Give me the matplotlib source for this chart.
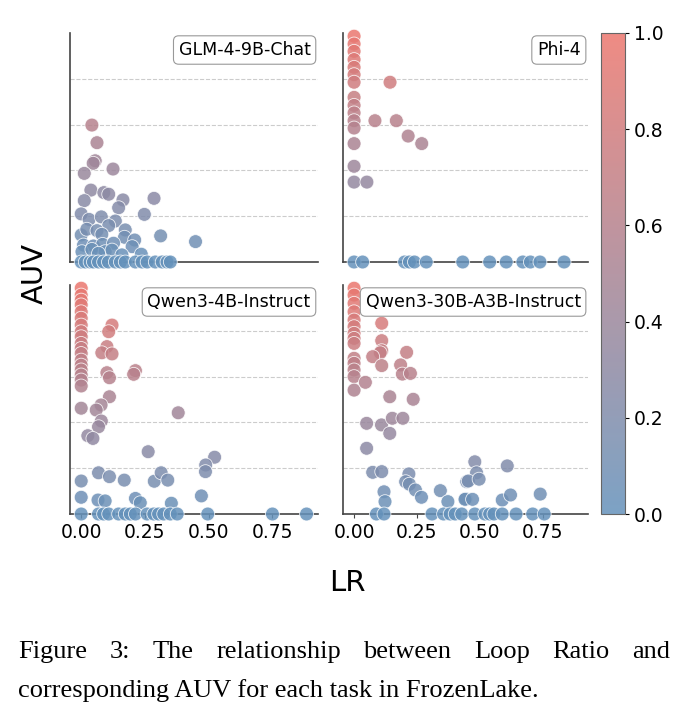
import matplotlib
matplotlib.use("Agg")
import matplotlib.pyplot as plt
from matplotlib.colors import LinearSegmentedColormap
import numpy as np

models = ["GLM-4-9B-Chat", "Phi-4", "Qwen3-4B-Instruct", "Qwen3-30B-A3B-Instruct"]

# GLM-4-9B-Chat
glm_lr = [0.042, 0.062, 0.055, 0.047, 0.012, 0.125, 0.038, 0.089, 0.108, 0.012,
          0.164, 0.286, 0.147, 0.0, 0.031, 0.079, 0.134, 0.108, 0.248, 0.0,
          0.022, 0.062, 0.081, 0.173, 0.170, 0.21, 0.312, 0.449, 0.009, 0.048,
          0.084, 0.127, 0.2, 0.003, 0.042, 0.094, 0.121, 0.160, 0.236, 0.068,
          0.0, 0.016, 0.035, 0.048, 0.068, 0.088, 0.107, 0.134, 0.154, 0.173,
          0.213, 0.239, 0.259, 0.291, 0.318, 0.337, 0.350]
glm_auv = [0.598, 0.521, 0.442, 0.431, 0.387, 0.406, 0.314, 0.303, 0.296, 0.268,
           0.271, 0.278, 0.237, 0.210, 0.186, 0.197, 0.179, 0.159, 0.208, 0.118,
           0.143, 0.137, 0.121, 0.140, 0.108, 0.096, 0.114, 0.089, 0.074, 0.070,
           0.077, 0.082, 0.067, 0.045, 0.055, 0.045, 0.052, 0.031, 0.034, 0.038,
           0, 0, 0, 0, 0, 0, 0, 0, 0, 0,
           0, 0, 0, 0, 0, 0, 0]

# Phi-4
phi_lr = [0, 0, 0, 0, 0, 0, 0, 0, 0, 0, 0, 0, 0, 0, 0,
          0.143, 0.083, 0.168, 0.215, 0.269, 0.051,
          0.0, 0.034, 0.201, 0.22, 0.24, 0.287, 0.432, 0.539, 0.605, 0.671,
          0.701, 0.739, 0.835]
phi_auv = [0.986, 0.952, 0.920, 0.884, 0.850, 0.818, 0.785, 0.719, 0.684, 0.651,
           0.617, 0.585, 0.517, 0.418, 0.349,
           0.785, 0.617, 0.617, 0.550, 0.517, 0.349,
           0, 0, 0, 0, 0, 0, 0, 0, 0, 0,
           0, 0, 0]

# Qwen3-4B-Instruct
q4_lr = [0] * 19 + [
    0.121, 0.108, 0.101, 0.081, 0.121, 0.101, 0.111, 0.213, 0.206, 0.111,
    0.078, 0.059, 0.381, 0.079, 0.068, 0.026, 0.046, 0.263, 0.0, 0.068,
    0.111, 0.169, 0.287, 0.314, 0.340, 0.0, 0.066, 0.094, 0.213, 0.232,
    0.354, 0.472, 0.524, 0.489, 0.488,
    0.0, 0.068, 0.088, 0.108, 0.147, 0.173, 0.193, 0.213, 0.259, 0.285,
    0.304, 0.324, 0.350, 0.377, 0.497, 0.751, 0.885]
q4_auv = [0.986, 0.956, 0.934, 0.913, 0.883, 0.855, 0.825, 0.796, 0.774, 0.745,
          0.723, 0.701, 0.672, 0.650, 0.629, 0.607, 0.585, 0.559, 0.462,
          0.825, 0.796, 0.731, 0.704, 0.699, 0.617, 0.595, 0.626, 0.610, 0.512,
          0.476, 0.454, 0.442, 0.406, 0.381, 0.342, 0.330, 0.272, 0.144, 0.180,
          0.163, 0.148, 0.143, 0.180, 0.148, 0.073, 0.061, 0.057, 0.068, 0.049,
          0.047, 0.079, 0.248, 0.214, 0.185,
          0, 0, 0, 0, 0, 0, 0, 0, 0, 0,
          0, 0, 0, 0, 0, 0, 0]

# Qwen3-30B-A3B-Instruct
q30_lr = [0] * 14 + [
    0.110, 0.110, 0.110, 0.104, 0.074, 0.110, 0.209, 0.185, 0.192, 0.224,
    0.045, 0.142, 0.235, 0.050, 0.109, 0.152, 0.194, 0.142, 0.050, 0.074,
    0.110, 0.218, 0.205, 0.220, 0.119, 0.123, 0.244, 0.268, 0.343, 0.373,
    0.448, 0.444, 0.480, 0.609, 0.487, 0.454, 0.497, 0.441, 0.471, 0.589,
    0.622, 0.740,
    0.089, 0.119, 0.310, 0.356, 0.382, 0.402, 0.428, 0.480, 0.520, 0.539,
    0.556, 0.589, 0.644, 0.710, 0.756]
q30_auv = [0.986, 0.956, 0.920, 0.883, 0.847, 0.818, 0.789, 0.767, 0.745, 0.680,
           0.658, 0.629, 0.600, 0.541,
           0.833, 0.757, 0.713, 0.704, 0.687, 0.648, 0.706, 0.651, 0.611, 0.614,
           0.575, 0.512, 0.501, 0.396, 0.389, 0.418, 0.418, 0.352, 0.287, 0.182,
           0.185, 0.175, 0.141, 0.130, 0.097, 0.054, 0.105, 0.073, 0.102, 0.054,
           0.141, 0.066, 0.228, 0.210, 0.180, 0.144, 0.152, 0.064, 0.064, 0.061,
           0.083, 0.087,
           0, 0, 0, 0, 0, 0, 0, 0, 0, 0,
           0, 0, 0, 0, 0]

cbar_ticks = [0.0, 0.2, 0.4, 0.6, 0.8, 1.0]
caption1 = "Figure 3: The relationship between Loop Ratio and"
caption2 = "corresponding AUV for each task in FrozenLake."

W, H = 689, 719


def rect(l, t, r, b):
    return [l / W, 1 - b / H, (r - l) / W, (b - t) / H]


def justify(fig, words, x0, x1, y, **kw):
    # place words so the line fills x0..x1 like LaTeX justified text
    r = fig.canvas.get_renderer()
    objs = [fig.text(0, y, w, **kw) for w in words]
    widths = [o.get_window_extent(r).width / W for o in objs]
    gap = (x1 - x0 - sum(widths)) / (len(words) - 1)
    x = x0
    for o, w in zip(objs, widths):
        o.set_x(x)
        x += w + gap


def main():
    cmap = LinearSegmentedColormap.from_list("auv", ["#6592bb", "#ec776e"])
    fig = plt.figure(figsize=(6.89, 7.19), dpi=100)

    ax0 = fig.add_axes(rect(70, 33, 318, 262))
    axes = [ax0,
            fig.add_axes(rect(343, 33, 588, 262), sharex=ax0, sharey=ax0),
            fig.add_axes(rect(70, 285, 318, 514), sharex=ax0, sharey=ax0),
            fig.add_axes(rect(343, 285, 588, 514), sharex=ax0, sharey=ax0)]
    data = [(glm_lr, glm_auv), (phi_lr, phi_auv), (q4_lr, q4_auv), (q30_lr, q30_auv)]

    for i, (ax, name, (lr, auv)) in enumerate(zip(axes, models, data)):
        sc = ax.scatter(lr, auv, c=auv, cmap=cmap, vmin=0, vmax=1, s=100,
                        alpha=0.85, edgecolors="white", linewidths=0.6,
                        clip_on=False, zorder=3)
        ax.set_xlim(-0.044, 0.93)
        ax.set_ylim(0, 1.0)
        ax.set_yticks([0.2, 0.4, 0.6, 0.8])
        ax.set_xticks([0.0, 0.25, 0.5, 0.75])
        ax.grid(axis="y", linestyle="--", color="#cccccc", linewidth=0.8)
        ax.set_axisbelow(True)
        for s in ["top", "right"]:
            ax.spines[s].set_visible(False)
        for s in ["left", "bottom"]:
            ax.spines[s].set_color("#444444")
            ax.spines[s].set_linewidth(1.2)
        ax.tick_params(axis="y", left=False, labelleft=False)
        ax.tick_params(axis="x", labelsize=13.5, length=3, color="#444444")
        if i < 2:
            ax.tick_params(axis="x", bottom=False, labelbottom=False)
        ax.text(0.97, 0.965, name, transform=ax.transAxes, ha="right", va="top",
                fontsize=12.5, zorder=5,
                bbox=dict(boxstyle="round,pad=0.3", fc="white", ec="#999999", lw=0.8))

    cax = fig.add_axes(rect(601, 33, 625, 514))
    cb = fig.colorbar(sc, cax=cax, ticks=cbar_ticks)
    cb.solids.set_alpha(0.85)
    cb.outline.set_edgecolor("#666666")
    cb.outline.set_linewidth(0.8)
    cax.tick_params(labelsize=13.5, length=3)

    fig.text(35 / W, 1 - 274 / H, "AUV", rotation=90, ha="center", va="center", fontsize=21)
    fig.text(347 / W, 1 - 583 / H, "LR", ha="center", va="center", fontsize=21)

    serif = dict(fontsize=19, family="Liberation Serif", va="baseline")
    justify(fig, caption1.split(" "), 18 / W, 670 / W, 1 - 658 / H, **serif)
    fig.text(18 / W, 1 - 697 / H, caption2, ha="left", **serif)

    fig.savefig("out.png", dpi=100)


if __name__ == '__main__':
    main()
